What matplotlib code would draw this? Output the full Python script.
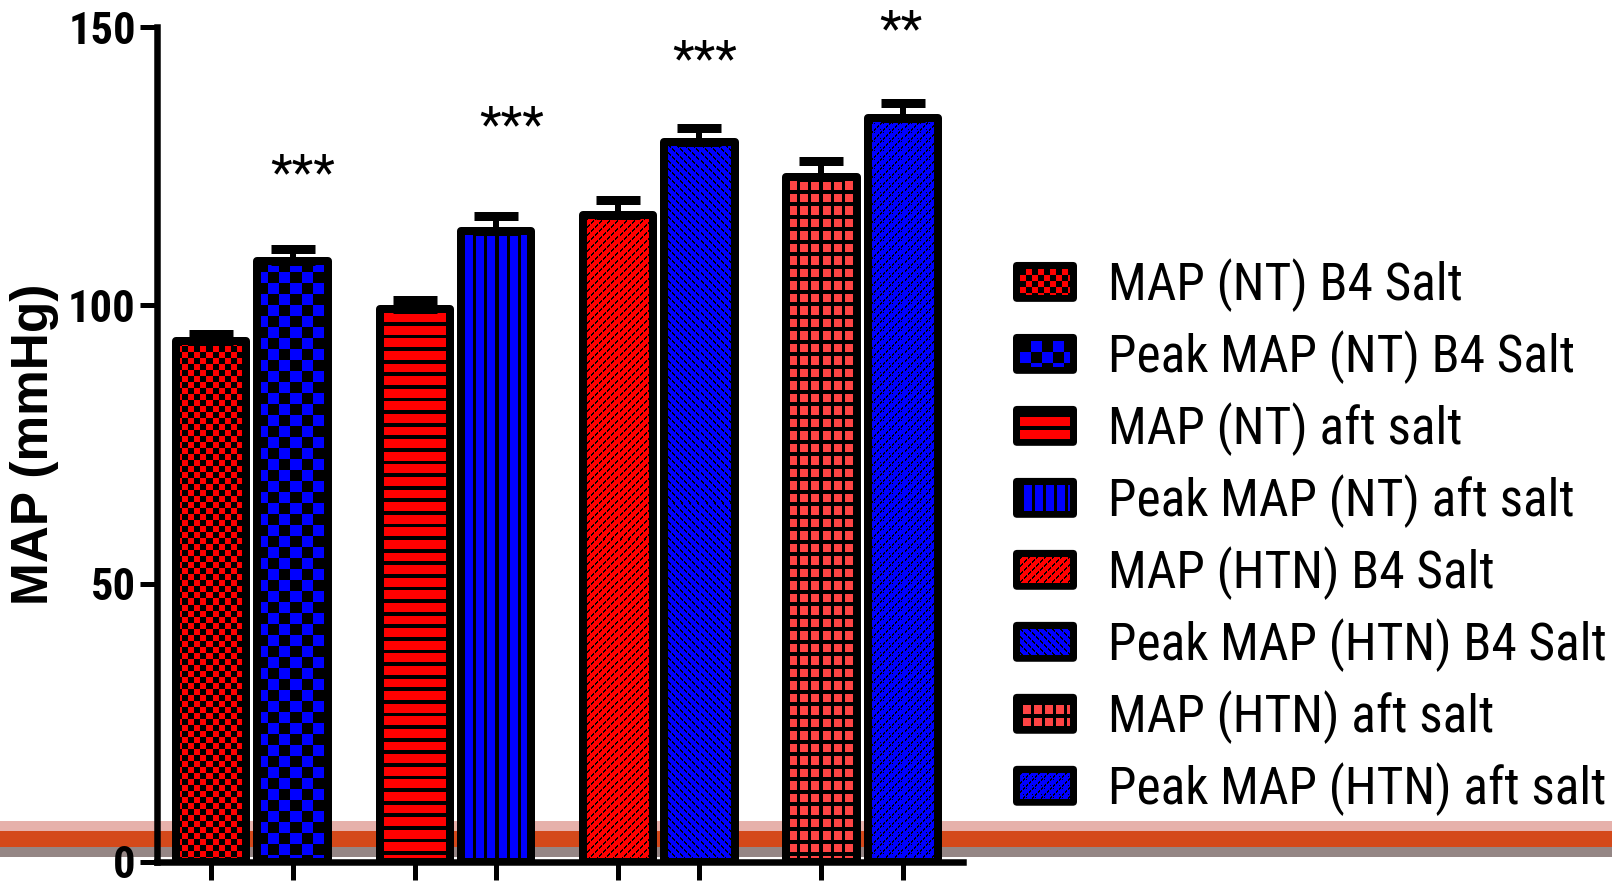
import numpy as np
import matplotlib
matplotlib.use("Agg")
import matplotlib.pyplot as plt
from matplotlib import font_manager
from matplotlib.patches import Rectangle, FancyBboxPatch, Patch
from matplotlib.collections import QuadMesh
from matplotlib.legend_handler import HandlerBase
from matplotlib.transforms import offset_copy

# ---------------- data ----------------
labels = ["MAP (NT) B4 Salt", "Peak MAP (NT) B4 Salt",
          "MAP (NT) aft salt", "Peak MAP (NT) aft salt",
          "MAP (HTN) B4 Salt", "Peak MAP (HTN) B4 Salt",
          "MAP (HTN) aft salt", "Peak MAP (HTN) aft salt"]
means = [93.6, 107.9, 99.3, 113.3, 116.3, 129.4, 123.0, 133.7]
sems = [1.2, 2.3, 1.7, 2.7, 2.6, 2.4, 2.9, 2.6]
positions = [0, 1, 2.5, 3.5, 5, 6, 7.5, 8.5]
star_text = ["***", "***", "***", "**"]
star_x = [1.12, 3.69, 6.07, 8.48]
star_y = [125.6, 134.2, 146.0, 151.4]
yticks = [0, 50, 100, 150]
ylabel = "MAP (mmHg)"

# ---------------- styles ----------------
RED = (1.0, 0.0, 0.0)
BLUE = (0.0, 0.0, 1.0)
LRED = (1.0, 0.27, 0.27)
kinds = ["checker_s", "checker_l", "hstripe", "vstripe",
         "diag_up", "diag_down", "grid", "weave"]
base_colors = [RED, BLUE, RED, BLUE, RED, BLUE, LRED, BLUE]

DPI = 100
PX = 72.0 / DPI  # points per pixel

available = {f.name for f in font_manager.fontManager.ttflist}
narrow = None
for cand in ["Liberation Sans Narrow", "Arial Narrow", "Roboto Condensed",
             "Open Sans Condensed", "Noto Sans Condensed", "DejaVu Sans Condensed"]:
    if cand in available:
        narrow = cand
        break
if narrow is not None and narrow != "DejaVu Sans Condensed":
    FAM = [narrow, "Liberation Sans", "DejaVu Sans"]
    TICK_FS, LEG_FS, STAR_FS, LSP = 32, 37, 36, 0.356
else:
    FAM = ["Liberation Sans", "DejaVu Sans"]
    TICK_FS, LEG_FS, STAR_FS, LSP = 28, 30, 32, 0.6
plt.rcParams["font.family"] = FAM


def make_pattern(kind, color, H, W):
    yy, xx = np.mgrid[0:H, 0:W]
    if kind == "checker_s":
        black = ((xx // 6 + yy // 6) % 2) == 0
    elif kind == "checker_l":
        black = ((xx // 11 + yy // 11) % 2) == 0
    elif kind == "hstripe":
        black = (yy % 12.6) < 3.8
    elif kind == "vstripe":
        black = (xx % 11.1) < 3.2
    elif kind == "diag_up":
        black = (((xx + yy) % 8) < 2) & ((xx % 4) != 3)
    elif kind == "diag_down":
        black = (((xx - yy) % 8) < 2) & ((xx % 4) != 3)
    elif kind == "grid":
        black = ((xx % 11) < 3) | ((yy % 12.5) < 4)
    else:  # weave
        black = ((((xx + yy) % 9) < 2) & ((xx % 3) != 2)) | ((((xx - yy) % 9) == 0) & ((yy % 3) == 0))
    img = np.empty((H, W, 3))
    img[:] = color
    img[black] = (0, 0, 0)
    return img


class TexPatch(Patch):
    def __init__(self, kind, color, **kw):
        super().__init__(**kw)
        self.kind = kind
        self.base = color


class TexHandler(HandlerBase):
    def create_artists(self, legend, orig_handle, xdescent, ydescent,
                       width, height, fontsize, trans):
        x0, y0 = -xdescent, -ydescent
        box = FancyBboxPatch((x0, y0), width, height,
                             boxstyle="round,pad=0,rounding_size=3",
                             fc="k", ec="none", transform=trans)
        inset = 7 * PX
        ix0, ix1 = x0 + inset, x0 + width - inset
        iy0, iy1 = y0 + inset, y0 + height - inset
        Wpx = max(int(round((ix1 - ix0) / PX)), 1)
        Hpx = max(int(round((iy1 - iy0) / PX)), 1)
        img = make_pattern(orig_handle.kind, orig_handle.base, Hpx, Wpx)
        xs = np.linspace(ix0, ix1, Wpx + 1)
        ys = np.linspace(iy1, iy0, Hpx + 1)
        X, Y = np.meshgrid(xs, ys)
        coords = np.stack([X, Y], axis=-1)
        qm = QuadMesh(coords, antialiased=False, transform=trans)
        qm.set_facecolor(img.reshape(-1, 3))
        qm.set_edgecolor("none")
        return [box, qm]


fig = plt.figure(figsize=(16.12, 8.85), dpi=DPI)
fig.patch.set_facecolor("white")

# horizontal colour bands across the image (artefact of the source picture)
for (ytop, ybot, col) in [(821, 831, "#E6B1AB"), (831, 847, "#D4491A"), (847, 857, "#958685")]:
    fig.patches.append(Rectangle((0, 1 - ybot / 885), 1, (ybot - ytop) / 885,
                                 transform=fig.transFigure, fc=col, ec="none", zorder=-5))

ax = fig.add_axes([157 / 1612, 1 - 862 / 885, (963 - 157) / 1612, (862 - 27) / 885])
ax.patch.set_alpha(0)
XL = (-0.667, 9.24)
ax.set_xlim(*XL)
ax.set_ylim(0, 150)

bar_w = 0.864
bars = ax.bar(positions, means, width=bar_w, facecolor="none", edgecolor="k",
              linewidth=8 * PX, joinstyle="round", zorder=3)

fig.canvas.draw()
for rect, kind, col in zip(bars, kinds, base_colors):
    x0, y0 = rect.get_x(), rect.get_y()
    w, h = rect.get_width(), rect.get_height()
    p0 = ax.transData.transform((x0, y0))
    p1 = ax.transData.transform((x0 + w, y0 + h))
    W = int(round(p1[0] - p0[0]))
    H = int(round(p1[1] - p0[1]))
    img = make_pattern(kind, col, H, W)
    ax.imshow(img, extent=(x0, x0 + w, y0, y0 + h), origin="upper",
              interpolation="nearest", aspect="auto", zorder=2)
ax.set_xlim(*XL)
ax.set_ylim(0, 150)

ax.errorbar(positions, means, yerr=[np.zeros(len(sems)), sems], fmt="none",
            ecolor="k", elinewidth=6 * PX, capsize=15.5,
            capthick=9 * PX, zorder=3.5)

tr = offset_copy(ax.transData, fig=fig, x=0, y=-26, units="dots")
for sx, sy, st in zip(star_x, star_y, star_text):
    ax.text(sx, sy, st, transform=tr, ha="center", va="baseline",
            fontsize=STAR_FS, family=FAM, clip_on=False)

# axes styling
for s in ["top", "right"]:
    ax.spines[s].set_visible(False)
for s in ["left", "bottom"]:
    ax.spines[s].set_linewidth(6.5 * PX)
    ax.spines[s].set_capstyle("projecting")
ax.set_xticks(positions)
ax.set_xticklabels([])
ax.set_yticks(yticks)
ax.set_yticklabels([str(t) for t in yticks], fontsize=TICK_FS, fontweight="bold", family=FAM)
ax.tick_params(axis="y", direction="out", length=17 * PX, width=5 * PX, pad=3)
ax.tick_params(axis="x", direction="out", length=18 * PX, width=5 * PX)

ax.set_ylabel(ylabel, fontsize=37, fontweight="bold",
              family=["Liberation Sans", "DejaVu Sans"], va="center", ha="center")
ax.yaxis.set_label_coords((35 - 157) / 806, 0.5)

handles = [TexPatch(k, c, label=l) for k, c, l in zip(kinds, base_colors, labels)]
leg = fig.legend(handles=handles, loc="upper left",
                 bbox_to_anchor=(1013 / 1612, 1 - 258 / 885),
                 frameon=False, borderpad=0, borderaxespad=0,
                 handlelength=64 * PX / LEG_FS, handleheight=42 * PX / LEG_FS,
                 handletextpad=31 * PX / LEG_FS, labelspacing=LSP,
                 handler_map={TexPatch: TexHandler()},
                 prop={"family": FAM, "size": LEG_FS})

fig.savefig("out.png", dpi=DPI)
